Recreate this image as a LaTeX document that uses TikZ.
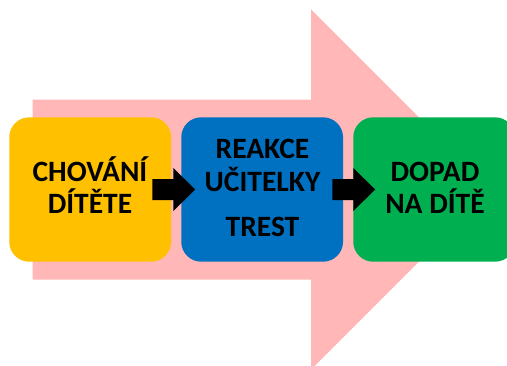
\documentclass[tikz,border=0pt]{standalone}
\usepackage{fontspec}
\setmainfont{Carlito}
\begin{document}
\begin{tikzpicture}[x=1pt,y=-1pt,
  box/.style={rounded corners=20pt, inner sep=0pt, minimum height=144.4pt, minimum width=161.8pt},
  label/.style={anchor=base, inner sep=0pt, font=\fontsize{29.5}{32}\selectfont\bfseries},
  blockarrow/.style={fill=black}]
\definecolor{flowpink}{RGB}{255,183,183}
\definecolor{boxyellow}{RGB}{255,192,0}
\definecolor{boxblue}{RGB}{0,112,192}
\definecolor{boxgreen}{RGB}{0,176,80}
\useasboundingbox (0,0) rectangle (507,365);

% large background arrow
\fill[flowpink] (32.5,99.5) -- (311,99.5) -- (311,9.3) -- (491,189.5)
  -- (311,369.5) -- (311,279.5) -- (32.5,279.5) -- cycle;

% stage boxes
\node[box, fill=boxyellow] (yellow) at (90.15,189.5) {};
\node[box, fill=boxblue] (blue) at (262.15,189.5) {};
\node[box, fill=boxgreen] (green) at (434.15,189.5) {};

% labels
\node[label] (c1) at (90,181.7) {CHOVÁNÍ};
\node[label] (c2) at (90,213) {DÍTĚTE};
\node[label] (r1) at (262.5,158.3) {REAKCE};
\node[label] (r2) at (262.5,191.7) {UČITELKY};
\node[label] (r3) at (262.5,236.7) {TREST};
\node[label] (d1) at (435,181.7) {DOPAD};
\node[label] (d2) at (435,213.3) {NA DÍTĚ};

% block arrows between the stages
\coordinate (a1) at ([xshift=-19pt]yellow.east);
\coordinate (a2) at ([xshift=-11pt]blue.east);
\foreach \p in {a1,a2}{
  \fill[blockarrow, shift={(\p)}] (0,-10.5) -- (21,-10.5) -- (21,-21.5)
    -- (43,0) -- (21,21.5) -- (21,10.5) -- (0,10.5) -- cycle;
}
\end{tikzpicture}
\end{document}
